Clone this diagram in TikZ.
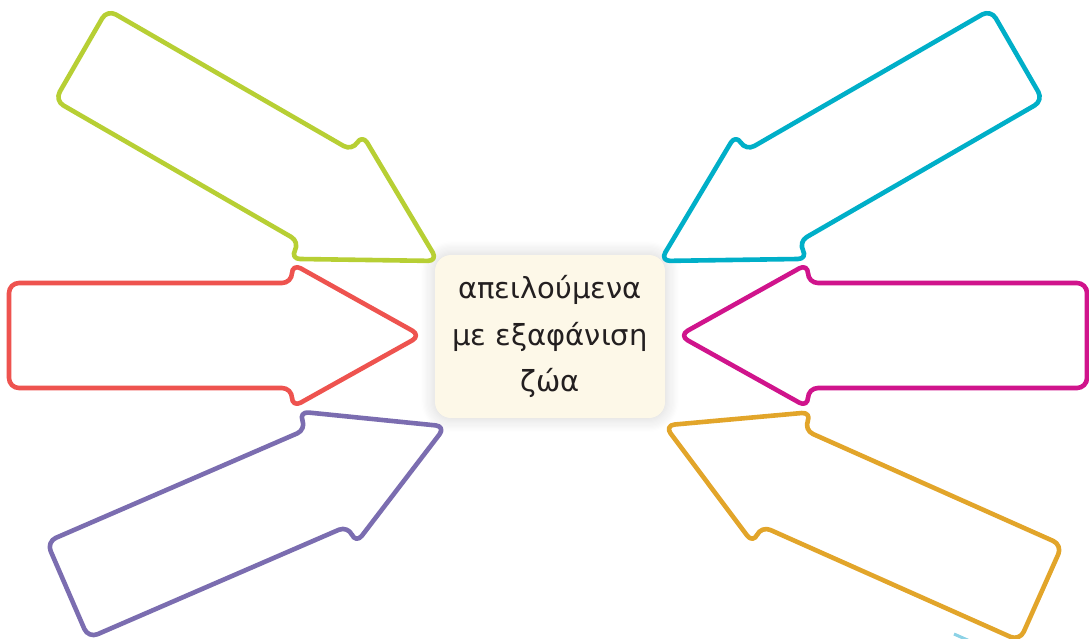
\documentclass[tikz,border=0pt]{standalone}
\usepackage{fontspec}
\setmainfont{DejaVu Sans}
\usetikzlibrary{shadows.blur}
\definecolor{cgreen}{RGB}{183,207,52}
\definecolor{ccyan}{RGB}{0,175,200}
\definecolor{cred}{RGB}{238,83,79}
\definecolor{cmagenta}{RGB}{208,20,140}
\definecolor{cpurple}{RGB}{123,109,176}
\definecolor{corange}{RGB}{226,165,42}
\definecolor{boxfill}{RGB}{253,248,232}
\definecolor{textdark}{RGB}{35,31,32}
\definecolor{fragcyan}{RGB}{140,210,230}
\tikzset{
  arrowline/.style={line width=4.6pt, rounded corners=10pt, line join=round, fill=white},
  pics/bigarrow/.style={code={
    \draw[pic actions] (0,-52.5) -- (#1,-52.5) -- (#1,-72) -- ({#1+129},0) -- (#1,72) -- (#1,52.5) -- (0,52.5) -- cycle;
  }},
  centerbox/.style={fill=boxfill, rounded corners=16pt, minimum width=230pt, minimum height=163pt,
    align=center, text=textdark, inner sep=0pt,
    font=\fontsize{29}{46.5}\selectfont,
    blur shadow={shadow xshift=0pt, shadow yshift=0pt, shadow blur radius=14pt, shadow opacity=18, shadow blur steps=12}}
}
\begin{document}
\begin{tikzpicture}[x=1pt,y=-1pt]
\useasboundingbox (0,0) rectangle (1089,639);
\node[centerbox] (c) at (550,336.5) {απειλούμενα\\με εξαφάνιση\\ζώα};
\pic (agreen)   at (81,55)     [arrowline, draw=cgreen, rotate=-30]    {bigarrow=283};
\pic (acyan)    at (1017,55)   [arrowline, draw=ccyan, rotate=210]     {bigarrow=283};
\pic (ared)     at (9,335.5)   [arrowline, draw=cred]                  {bigarrow=283};
\pic (amagenta) at (1087,335.5)[arrowline, draw=cmagenta, rotate=180]  {bigarrow=279};
\pic (apurple)  at (67.5,590)  [arrowline, draw=cpurple, rotate=23.4]  {bigarrow=283};
\pic (aorange)  at (1041,593)  [arrowline, draw=corange, rotate=156]   {bigarrow=283};
\begin{scope}
\clip (0,0) rectangle (1089,639);
\draw[fragcyan, line width=3pt] (954,634) -- (972,642);
\end{scope}
\end{tikzpicture}
\end{document}
